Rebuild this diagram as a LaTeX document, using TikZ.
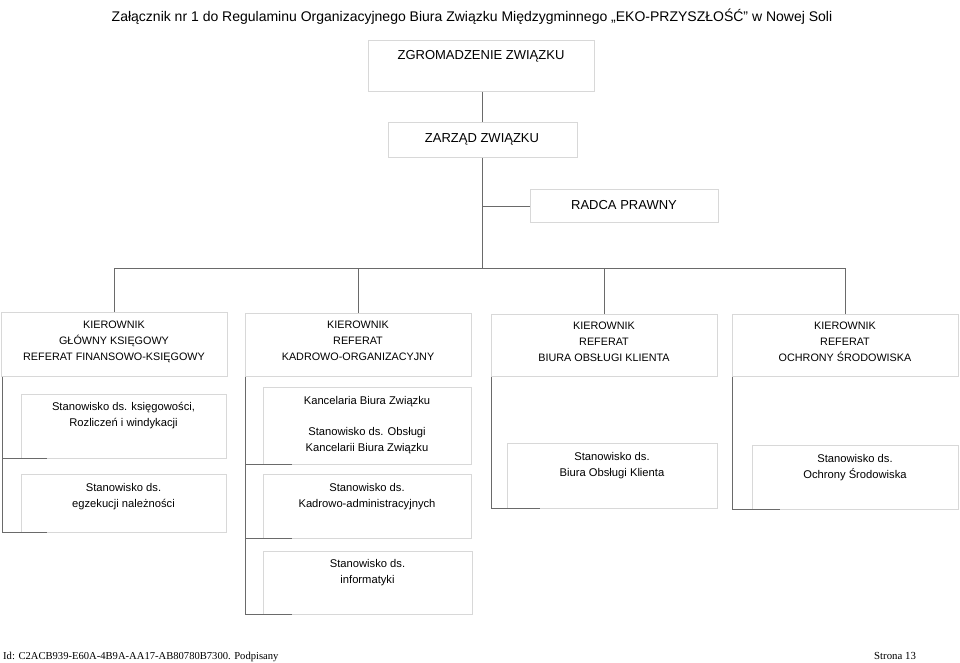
\documentclass[tikz,border=0pt]{standalone}
\usepackage{fontspec}
\setmainfont{Liberation Sans}
\newfontfamily\serifft{Liberation Serif}
\usetikzlibrary{calc}
\definecolor{boxgray}{HTML}{D8D8D8}
\definecolor{conngray}{HTML}{6A6A6A}
\tikzset{
  orgbox/.style={draw=boxgray, line width=0.9pt, rectangle, inner sep=0pt, anchor=north west},
  bigtxt/.style={font=\fontsize{13}{16}\selectfont, inner sep=0pt, align=center},
  captxt/.style={font=\fontsize{10.8}{15.8}\selectfont, inner sep=0pt, align=center, anchor=north},
  subtxt/.style={font=\fontsize{11.2}{15.8}\selectfont, inner sep=0pt, align=center, anchor=north},
  conn/.style={draw=conngray, line width=0.9pt},
}
\begin{document}
\begin{tikzpicture}[x=1pt,y=-1pt]
\useasboundingbox[fill=white] (0,0) rectangle (960,663);

% header
\node[font=\fontsize{14}{16}\selectfont, inner sep=0pt, anchor=base] (head) at (472,22)
  {Załącznik nr 1 do Regulaminu Organizacyjnego Biura Związku Międzygminnego „EKO-PRZYSZŁOŚĆ” w Nowej Soli};

% top boxes
\node[orgbox, minimum width=226, minimum height=51] (zgrom) at (368,40) {};
\node[bigtxt, anchor=base] (zgromt) at (481,60) {ZGROMADZENIE ZWIĄZKU};

\node[orgbox, minimum width=189, minimum height=35] (zarz) at (388,122) {};
\node[bigtxt, anchor=base] (zarzt) at (482,143) {ZARZĄD ZWIĄZKU};

\node[orgbox, minimum width=188, minimum height=33] (radca) at (530,189) {};
\node[bigtxt, anchor=base] (radcat) at (624,209) {RADCA PRAWNY};

% level 3 boxes
\node[orgbox, minimum width=226, minimum height=64] (k1) at (1,312) {};
\node[captxt] (k1t) at (114,321) {KIEROWNIK\\GŁÓWNY KSIĘGOWY\\REFERAT FINANSOWO-KSIĘGOWY};

\node[orgbox, minimum width=226, minimum height=63] (k2) at (245,313) {};
\node[captxt] (k2t) at (358,321) {KIEROWNIK\\REFERAT\\KADROWO-ORGANIZACYJNY};

\node[orgbox, minimum width=226, minimum height=62] (k3) at (491,314) {};
\node[captxt] (k3t) at (604,322) {KIEROWNIK\\REFERAT\\BIURA OBSŁUGI KLIENTA};

\node[orgbox, minimum width=226, minimum height=62] (k4) at (732,314) {};
\node[captxt] (k4t) at (845,322) {KIEROWNIK\\REFERAT\\OCHRONY ŚRODOWISKA};

% sub boxes column 1
\node[orgbox, minimum width=205, minimum height=64] (s1a) at (21,394) {};
\node[subtxt] (s1at) at (123.5,402) {Stanowisko ds. księgowości,\\Rozliczeń i windykacji};
\node[orgbox, minimum width=205, minimum height=58] (s1b) at (21,474) {};
\node[subtxt] (s1bt) at (123.5,483) {Stanowisko ds.\\egzekucji należności};

% column 2
\node[orgbox, minimum width=208, minimum height=77] (s2a) at (263,387) {};
\node[subtxt] (s2at) at (367,396) {Kancelaria Biura Związku\\[15.8pt]Stanowisko ds. Obsługi\\Kancelarii Biura Związku};
\node[orgbox, minimum width=208, minimum height=64] (s2b) at (263,474) {};
\node[subtxt] (s2bt) at (367,483) {Stanowisko ds.\\Kadrowo-administracyjnych};
\node[orgbox, minimum width=209, minimum height=63] (s2c) at (263,551) {};
\node[subtxt] (s2ct) at (367.5,559) {Stanowisko ds.\\informatyki};

% column 3
\node[orgbox, minimum width=210, minimum height=65] (s3) at (507,443) {};
\node[subtxt] (s3t) at (612,452) {Stanowisko ds.\\Biura Obsługi Klienta};

% column 4
\node[orgbox, minimum width=206, minimum height=64] (s4) at (752,445) {};
\node[subtxt] (s4t) at (855,454) {Stanowisko ds.\\Ochrony Środowiska};

% connectors
\coordinate (bus) at (482,268);
\draw[conn] (zgrom.south -| bus) -- (zarz.north -| bus);
\draw[conn] (zarz.south -| bus) -- (bus);
\draw[conn] (radca.west -| bus) -- (radca.west);
\draw[conn] (bus) -| (k1.north);
\draw[conn] (bus) -| (k2.north);
\draw[conn] (bus) -| (k3.north);
\draw[conn] (bus) -| (k4.north);

\draw[conn] ([xshift=1pt]k1.south west) |- ($(s1a.south west)+(26,0)$);
\draw[conn] ([xshift=1pt]k1.south west) |- ($(s1b.south west)+(26,0)$);

\draw[conn] (k2.south west) |- ($(s2a.south west)+(29,0)$);
\draw[conn] (k2.south west) |- ($(s2b.south west)+(29,0)$);
\draw[conn] (k2.south west) |- ($(s2c.south west)+(29,0)$);

\draw[conn] (k3.south west) |- ($(s3.south west)+(33,0)$);
\draw[conn] (k4.south west) |- ($(s4.south west)+(28,0)$);

% footer
\node[font=\serifft\fontsize{10.6}{13}\selectfont, inner sep=0pt, anchor=base west] (foot) at (3,659)
  {Id: C2ACB939-E60A-4B9A-AA17-AB80780B7300. Podpisany};
\node[font=\serifft\fontsize{10.8}{13}\selectfont, inner sep=0pt, anchor=base west] (page) at (874,659)
  {Strona 13};
\end{tikzpicture}
\end{document}
